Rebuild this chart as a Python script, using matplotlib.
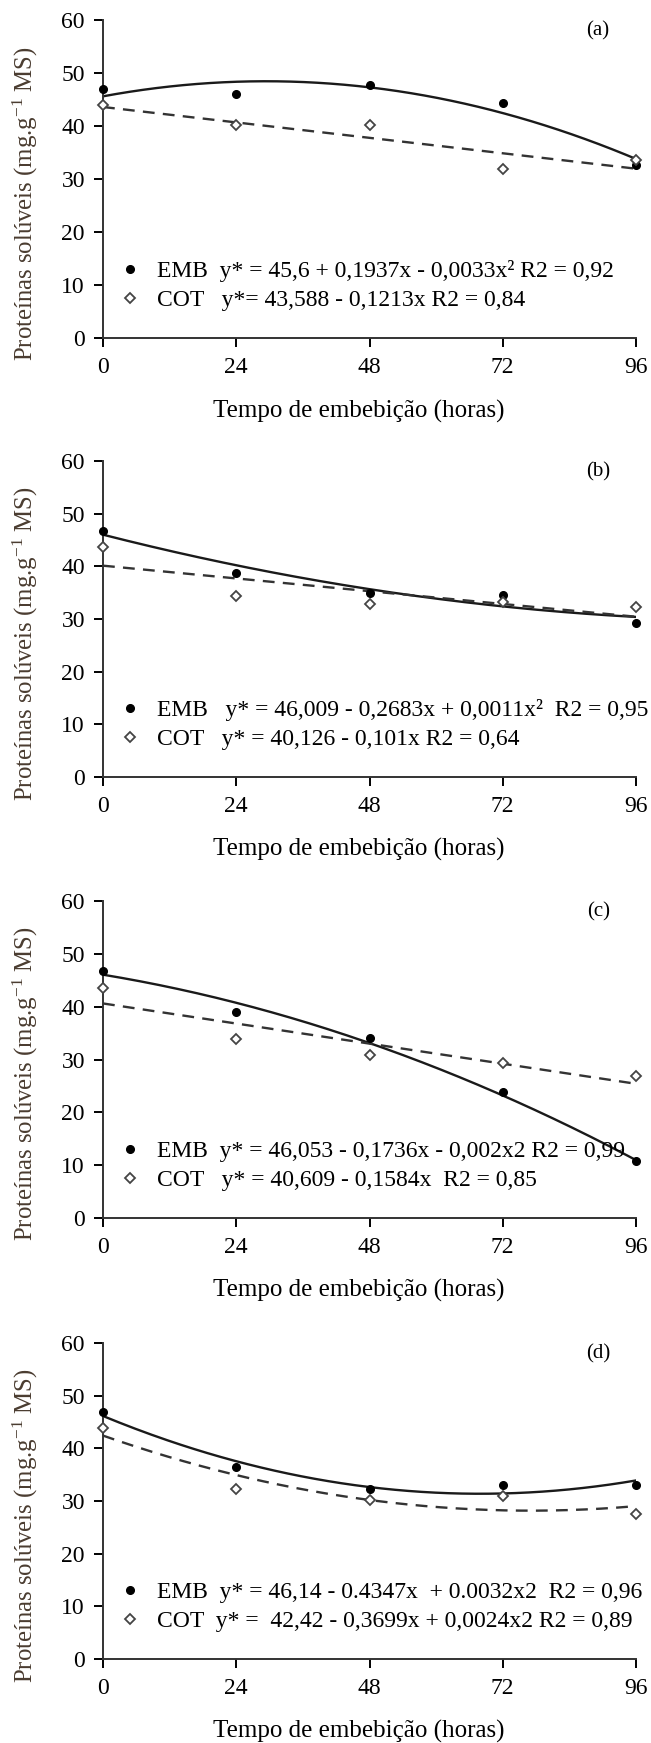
import matplotlib
matplotlib.use("Agg")
import matplotlib.pyplot as plt
import numpy as np

plt.rcParams.update({
    "font.family": ["Liberation Serif", "DejaVu Serif"],
    "mathtext.fontset": "custom",
    "mathtext.rm": "Liberation Serif",
    "mathtext.default": "regular",
    "axes.edgecolor": "#333333",
    "axes.linewidth": 1.4,
    "xtick.major.size": 6.5,
    "ytick.major.size": 6.5,
    "xtick.major.width": 1.4,
    "ytick.major.width": 1.4,
    "xtick.direction": "out",
    "ytick.direction": "out",
})

# data
hours = [0, 24, 48, 72, 96]
panel_tags = ["(a)", "(b)", "(c)", "(d)"]

emb_a = [46.9, 46.0, 47.8, 44.4, 32.6]
cot_a = [43.9, 40.1, 40.1, 31.9, 33.6]
emb_b = [46.7, 38.8, 35.0, 34.5, 29.3]
cot_b = [43.6, 34.3, 32.9, 33.2, 32.2]
emb_c = [46.7, 38.9, 34.1, 23.9, 10.8]
cot_c = [43.6, 33.8, 30.8, 29.4, 26.9]
emb_d = [46.9, 36.4, 32.3, 33.1, 33.1]
cot_d = [43.8, 32.3, 30.1, 30.9, 27.6]

# regression coefficients printed on each panel (highest power first)
emb_fit = [[-0.0033, 0.1937, 45.6],
           [0.0011, -0.2683, 46.009],
           [-0.002, -0.1736, 46.053],
           [0.0032, -0.4347, 46.14]]
cot_fit = [[-0.1213, 43.588],
           [-0.101, 40.126],
           [-0.1584, 40.609],
           [0.0024, -0.3699, 42.42]]

emb_labels = [
    "EMB  y* = 45,6 + 0,1937x - 0,0033x² R2 = 0,92",
    "EMB   y* = 46,009 - 0,2683x + 0,0011x²  R2 = 0,95",
    "EMB  y* = 46,053 - 0,1736x - 0,002x2 R2 = 0,99",
    "EMB  y* = 46,14 - 0.4347x  + 0.0032x2  R2 = 0,96",
]
cot_labels = [
    "COT   y*= 43,588 - 0,1213x R2 = 0,84",
    "COT   y* = 40,126 - 0,101x R2 = 0,64",
    "COT   y* = 40,609 - 0,1584x  R2 = 0,85",
    "COT  y* =  42,42 - 0,3699x + 0,0024x2 R2 = 0,89",
]

emb_all = [emb_a, emb_b, emb_c, emb_d]
cot_all = [cot_a, cot_b, cot_c, cot_d]

W, H = 651, 1743
fig = plt.figure(figsize=(W / 100, H / 100), dpi=100)

# pixel boxes of the four axes (top, bottom)
boxes = [(20, 338), (461, 777), (901, 1218), (1343, 1659)]
x_left, x_right = 103, 636

xx = np.linspace(0, 96, 200)
for i, (top, bot) in enumerate(boxes):
    ax = fig.add_axes([x_left / W, 1 - bot / H, (x_right - x_left) / W, (bot - top) / H])
    ax.plot(xx, np.polyval(emb_fit[i], xx), color="#1a1a1a", lw=1.7)
    ax.plot(xx, np.polyval(cot_fit[i], xx), color="#333333", lw=1.7, ls=(0, (5, 3.5)))
    h1, = ax.plot(hours, emb_all[i], ls="none", marker="o", ms=5.5, color="black",
                  clip_on=False, zorder=4)
    h2, = ax.plot(hours, cot_all[i], ls="none", marker="D", ms=4.8, mfc="white",
                  mec="#444444", mew=1.3, clip_on=False, zorder=4)
    ax.set_xlim(0, 96)
    ax.set_ylim(0, 60)
    ax.set_xticks(hours)
    ax.set_yticks(range(0, 61, 10))
    ax.tick_params(axis="y", labelsize=17, pad=6.5)
    ax.tick_params(axis="x", labelsize=17, pad=7)
    for s in ("top", "right"):
        ax.spines[s].set_visible(False)
    ax.set_xlabel("Tempo de embebição (horas)", fontsize=18, va="center")
    ax.xaxis.set_label_coords(0.48, -0.23)
    ax.text(-0.146, 0.423, "Proteínas solúveis (mg.g$^{-1}$ MS)", transform=ax.transAxes,
            rotation=90, ha="center", va="center", fontsize=17.8, color="#4a3c30")
    ax.text(0.929, 0.965, panel_tags[i], transform=ax.transAxes, ha="center", va="center",
            fontsize=15)
    ax.legend([h1, h2], [emb_labels[i], cot_labels[i]], loc="center left",
              bbox_to_anchor=(0.033, 0.165), frameon=False, fontsize=17,
              handlelength=0.8, handletextpad=0.75, labelspacing=0.32,
              borderpad=0, borderaxespad=0)

fig.savefig("out.png", dpi=100)
